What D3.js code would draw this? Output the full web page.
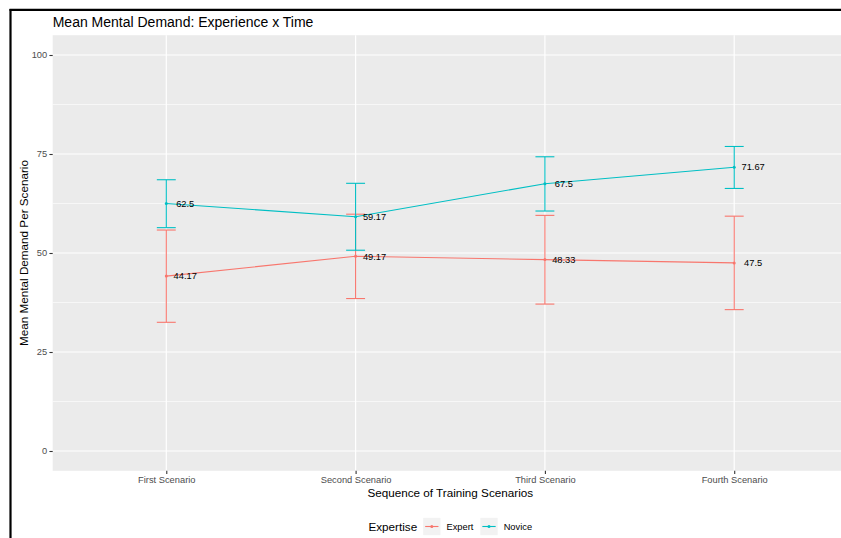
<!DOCTYPE html>
<html><head><meta charset="utf-8">
<script src="https://cdn.jsdelivr.net/npm/d3@7"></script>
<style>
html,body{margin:0;padding:0;background:#fff;}
svg{display:block;font-family:"Liberation Sans",Arial,Helvetica,sans-serif;}
</style></head>
<body>
<svg id="chart" width="841" height="538"></svg>
<script>
const categories = ["First Scenario","Second Scenario","Third Scenario","Fourth Scenario"];
const expertMean = [44.17, 49.17, 48.33, 47.5];
const expertLow  = [32.5, 38.5, 37.1, 35.7];
const expertHigh = [55.8, 59.8, 59.5, 59.3];
const noviceMean = [62.5, 59.17, 67.5, 71.67];
const noviceLow  = [56.4, 50.7, 60.6, 66.3];
const noviceHigh = [68.5, 67.6, 74.3, 76.9];
const yTicks = [0, 25, 50, 75, 100];
const yMinor = [12.5, 37.5, 62.5, 87.5];
const seriesNames = ["Expert", "Novice"];
const seriesColors = ["#F8766D", "#00BFC4"];

const series = [
  {name: seriesNames[0], color: seriesColors[0], mean: expertMean, low: expertLow, high: expertHigh},
  {name: seriesNames[1], color: seriesColors[1], mean: noviceMean, low: noviceLow, high: noviceHigh}
];

const svg = d3.select("#chart");
const P = {left: 52.7, right: 847.8, top: 35.2, bottom: 470.8};

const x = d3.scalePoint().domain(categories).range([P.left, P.right]).padding(0.6);
const y = d3.scaleLinear().domain([-5, 105]).range([P.bottom, P.top]);
const step = x.step();

// outer border (cropped frame)
svg.append("line").attr("x1", 9.5).attr("x2", 841).attr("y1", 9.8).attr("y2", 9.8).attr("stroke", "#000").attr("stroke-width", 2.2);
svg.append("line").attr("x1", 10.5).attr("x2", 10.5).attr("y1", 9).attr("y2", 538).attr("stroke", "#000").attr("stroke-width", 2.2);

// panel
svg.append("rect").attr("x", P.left).attr("y", P.top).attr("width", P.right - P.left).attr("height", P.bottom - P.top).attr("fill", "#EBEBEB");

const grid = svg.append("g");
grid.selectAll(".minor").data(yMinor).join("line")
  .attr("x1", P.left).attr("x2", P.right).attr("y1", d => y(d)).attr("y2", d => y(d))
  .attr("stroke", "#fff").attr("stroke-width", 0.6);
grid.selectAll(".major").data(yTicks).join("line")
  .attr("x1", P.left).attr("x2", P.right).attr("y1", d => y(d)).attr("y2", d => y(d))
  .attr("stroke", "#fff").attr("stroke-width", 1.2);
grid.selectAll(".vmajor").data(categories).join("line")
  .attr("x1", d => x(d)).attr("x2", d => x(d)).attr("y1", P.top).attr("y2", P.bottom)
  .attr("stroke", "#fff").attr("stroke-width", 1.2);

// axes
const yAxis = d3.axisLeft(y).tickValues(yTicks).tickSize(3.3).tickPadding(2.2);
const gy = svg.append("g").attr("transform", `translate(${P.left},0)`).call(yAxis);
gy.select(".domain").remove();
gy.selectAll(".tick line").attr("stroke", "#333333").attr("stroke-width", 1.1);
gy.selectAll(".tick text").attr("fill", "#4D4D4D").style("font-size", "9.3px").attr("font-family", null);

const xAxis = d3.axisBottom(x).tickSize(3.3).tickPadding(2.2);
const gx = svg.append("g").attr("transform", `translate(0,${P.bottom})`).call(xAxis);
gx.select(".domain").remove();
gx.selectAll(".tick line").attr("stroke", "#333333").attr("stroke-width", 1.1);
gx.selectAll(".tick text").attr("fill", "#4D4D4D").style("font-size", "9.3px").attr("font-family", null);

// data layers
const line = d3.line().x(d => x(d.cat)).y(d => y(d.v));
series.forEach(s => {
  const pts = categories.map((c, i) => ({cat: c, v: s.mean[i], lo: s.low[i], hi: s.high[i]}));
  const g = svg.append("g");
  // error bars
  const eb = g.selectAll(".eb").data(pts).join("g");
  eb.append("line").attr("x1", d => x(d.cat)).attr("x2", d => x(d.cat))
    .attr("y1", d => y(d.lo)).attr("y2", d => y(d.hi))
    .attr("stroke", s.color).attr("stroke-width", 1.1);
  eb.append("line").attr("x1", d => x(d.cat) - step * 0.05).attr("x2", d => x(d.cat) + step * 0.05)
    .attr("y1", d => y(d.hi)).attr("y2", d => y(d.hi))
    .attr("stroke", s.color).attr("stroke-width", 1.1);
  eb.append("line").attr("x1", d => x(d.cat) - step * 0.05).attr("x2", d => x(d.cat) + step * 0.05)
    .attr("y1", d => y(d.lo)).attr("y2", d => y(d.lo))
    .attr("stroke", s.color).attr("stroke-width", 1.1);
  // line
  g.append("path").datum(pts).attr("d", line).attr("fill", "none").attr("stroke", s.color).attr("stroke-width", 1.1);
  // points
  g.selectAll(".pt").data(pts).join("circle")
    .attr("cx", d => x(d.cat)).attr("cy", d => y(d.v)).attr("r", 1.5).attr("fill", s.color);
  // labels
  g.selectAll(".lbl").data(pts).join("text")
    .attr("x", d => x(d.cat) + step * 0.1).attr("y", d => y(d.v))
    .attr("dy", "0.35em").attr("text-anchor", "middle")
    .style("font-size", "9.3px").attr("fill", "#000")
    .text(d => String(d.v));
});

// titles
svg.append("text").attr("x", P.left).attr("y", 27).style("font-size", "14px").attr("fill", "#000")
  .text("Mean Mental Demand: Experience x Time");
svg.append("text").attr("x", (P.left + P.right) / 2).attr("y", 497).attr("text-anchor", "middle")
  .style("font-size", "11.7px").attr("fill", "#000").text("Sequence of Training Scenarios");
svg.append("text").attr("transform", `translate(27.5,${(P.top + P.bottom) / 2}) rotate(-90)`)
  .attr("text-anchor", "middle").style("font-size", "11.7px").attr("fill", "#000")
  .text("Mean Mental Demand Per Scenario");

// legend
const leg = svg.append("g");
const legTitle = leg.append("text").attr("x", 0).attr("y", 0).style("font-size", "11.7px").attr("fill", "#000").text("Expertise");
let cx = legTitle.node().getComputedTextLength() + 6;
const keyS = 17.3;
series.forEach((s, i) => {
  leg.append("rect").attr("x", cx).attr("y", -keyS / 2 - 4).attr("width", keyS).attr("height", keyS).attr("fill", "#F2F2F2");
  leg.append("line").attr("x1", cx + 2).attr("x2", cx + keyS - 2).attr("y1", -4).attr("y2", -4).attr("stroke", s.color).attr("stroke-width", 1.1);
  leg.append("circle").attr("cx", cx + keyS / 2).attr("cy", -4).attr("r", 1.5).attr("fill", s.color);
  const t = leg.append("text").attr("x", cx + keyS + 6).attr("y", -0.7).style("font-size", "9.3px").attr("fill", "#000").text(s.name);
  cx += keyS + 6 + t.node().getComputedTextLength() + (i === 0 ? 7 : 0);
});
leg.attr("transform", `translate(${(P.left + P.right) / 2 - cx / 2},530.5)`);
</script>
</body></html>
